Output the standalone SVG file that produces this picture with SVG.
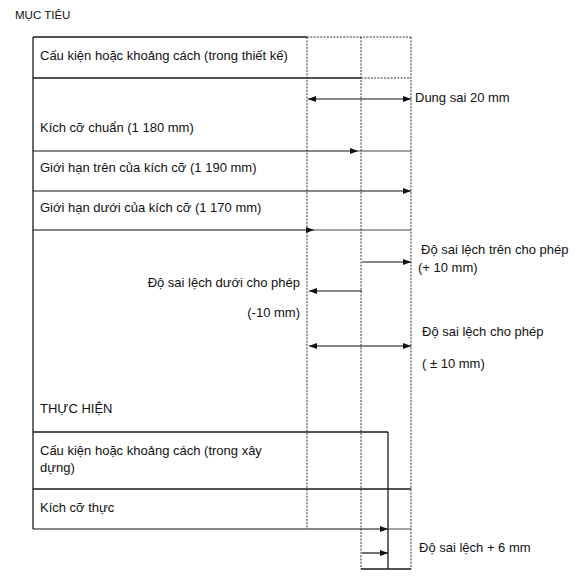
<svg xmlns="http://www.w3.org/2000/svg" width="576" height="578" viewBox="0 0 576 578">
<defs>
<marker id="ah" viewBox="0 0 8 6" markerWidth="8" markerHeight="6" refX="8" refY="3" orient="auto-start-reverse" markerUnits="userSpaceOnUse">
<path d="M0,0 L8,3 L0,6 z" fill="#111"/>
</marker>
<style>
text{font-family:"Liberation Sans",Arial,sans-serif;font-size:13px;fill:#111}
.solid{stroke:#1a1a1a;stroke-width:1.3;fill:none}
.thin{stroke:#333;stroke-width:0.9;fill:none}
.dot{stroke:#333;stroke-width:1;stroke-dasharray:2 1.3;fill:none}
.arr{stroke:#111;stroke-width:1.2;fill:none;marker-end:url(#ah)}
.darr{stroke:#111;stroke-width:1.1;fill:none;marker-start:url(#ah);marker-end:url(#ah)}
</style>
</defs>
<rect width="576" height="578" fill="#fff"/>

<g id="frame">
<line class="solid" x1="33" y1="37" x2="33" y2="529"/>
<line class="solid" x1="33" y1="37" x2="307" y2="37"/>
<line class="dot" x1="307" y1="37" x2="411" y2="37"/>
<line class="solid" x1="33" y1="78" x2="361" y2="78"/>
<line class="dot" x1="361" y1="78" x2="411" y2="78"/>
<line class="dot" x1="307" y1="37" x2="307" y2="529"/>
<line class="dot" x1="361" y1="37" x2="361" y2="569"/>
<line class="dot" x1="411" y1="37" x2="411" y2="569"/>
<line class="solid" x1="33" y1="432" x2="388" y2="432"/>
<line class="solid" x1="388" y1="432" x2="388" y2="569"/>
<line class="solid" x1="33" y1="489" x2="411" y2="489"/>
<line class="solid" x1="361" y1="569" x2="411" y2="569"/>
</g>

<g id="connectors">
<line class="arr" x1="33" y1="151" x2="358" y2="151"/>
<line class="thin" x1="358" y1="151" x2="411" y2="151"/>
<line class="arr" x1="33" y1="191" x2="411" y2="191"/>
<line class="arr" x1="33" y1="230" x2="314" y2="230"/>
<line class="thin" x1="314" y1="230" x2="411" y2="230"/>
<line class="arr" x1="33" y1="529" x2="388" y2="529"/>
<line class="thin" x1="388" y1="529" x2="411" y2="529"/>
<line class="darr" x1="308" y1="99" x2="411" y2="99"/>
<line class="arr" x1="362" y1="262" x2="411" y2="262"/>
<line class="arr" x1="362" y1="291" x2="309" y2="291"/>
<line class="darr" x1="309" y1="346" x2="411" y2="346"/>
<line class="arr" x1="362" y1="553" x2="388" y2="553"/>
</g>

<g id="heading-target"><text x="15" y="19" style="font-size:11.5px">MỤC TIÊU</text></g>
<g id="row-design"><text x="40" y="60">Cấu kiện hoặc khoảng cách (trong thiết kế)</text></g>
<g id="label-tolerance"><text x="415" y="102">Dung sai 20 mm</text></g>
<g id="row-nominal"><text x="40" y="132">Kích cỡ chuẩn (1 180 mm)</text></g>
<g id="row-upper"><text x="40" y="172">Giới hạn trên của kích cỡ (1 190 mm)</text></g>
<g id="row-lower"><text x="40" y="212">Giới hạn dưới của kích cỡ (1 170 mm)</text></g>
<g id="label-upper-dev"><text x="421" y="254">Độ sai lệch trên cho phép</text><text x="418" y="272">(+ 10 mm)</text></g>
<g id="label-lower-dev"><text x="300" y="287" text-anchor="end">Độ sai lệch dưới cho phép</text><text x="300" y="317" text-anchor="end">(-10 mm)</text></g>
<g id="label-perm-dev"><text x="422" y="336">Độ sai lệch cho phép</text><text x="422" y="368">( ± 10 mm)</text></g>
<g id="heading-actual"><text x="40" y="413">THỰC HIỆN</text></g>
<g id="row-construction"><text x="40" y="455">Cấu kiện hoặc khoảng cách (trong xây</text><text x="40" y="472">dựng)</text></g>
<g id="row-actual"><text x="40" y="512">Kích cỡ thực</text></g>
<g id="label-actual-dev"><text x="419" y="552">Độ sai lệch + 6 mm</text></g>
</svg>
